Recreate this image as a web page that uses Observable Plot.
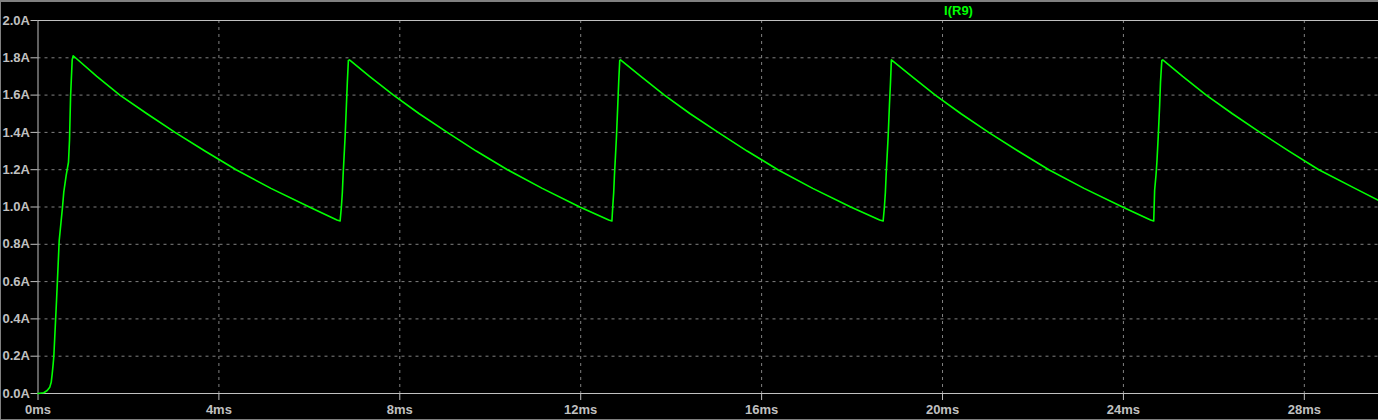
<!DOCTYPE html>
<html><head><meta charset="utf-8">
<script src="https://cdn.jsdelivr.net/npm/d3@7"></script>
<script src="https://cdn.jsdelivr.net/npm/@observablehq/plot@0.6"></script>
<style>
html,body{margin:0;padding:0;background:#000;}
#chart svg{display:block;box-shadow:inset 0 2px 0 #808080, inset 1px 0 0 #808080, inset 0 -1px 0 #808080;}
#chart svg text{font-size:13px !important;font-weight:bold;font-family:'Liberation Sans', Arial, sans-serif !important;}
</style></head><body><div id="chart"></div>
<script>
const traceName = "I(R9)";
const timeMs = [
  0, 0.128, 0.203, 0.26, 0.292, 0.314, 0.336, 0.35, 0.41, 0.469, 0.542, 0.57, 0.623, 0.674, 0.697, 0.72, 0.756, 0.778,
  1.30, 1.81, 2.41, 3.03, 3.69, 4.38, 5.15, 6.0, 6.61, 6.68,
  6.708, 6.73, 6.746, 6.759, 6.79, 6.819, 6.84, 6.863, 6.887,
  7.33, 7.86, 8.43, 9.05, 9.69, 10.38, 11.15, 11.98, 12.62, 12.69,
  12.708, 12.73, 12.746, 12.759, 12.79, 12.819, 12.84, 12.863, 12.88,
  13.33, 13.85, 14.42, 15.04, 15.68, 16.36, 17.13, 17.97, 18.61, 18.687,
  18.715, 18.737, 18.753, 18.766, 18.797, 18.826, 18.85, 18.863, 18.87,
  19.32, 19.84, 20.41, 21.02, 21.67, 22.35, 23.13, 23.98, 24.6, 24.67,
  24.69, 24.72, 24.74, 24.77, 24.8, 24.82, 24.84, 24.85, 24.87,
  25.31, 25.83, 26.41, 27.02, 27.66, 28.32, 29.12, 29.64
];
const currentA = [
  0, 0.004, 0.016, 0.034, 0.06, 0.105, 0.16, 0.2, 0.5, 0.82, 1.0, 1.08, 1.17, 1.24, 1.36, 1.59, 1.79, 1.811,
  1.7, 1.6, 1.5, 1.4, 1.3, 1.2, 1.1, 1.0, 0.93, 0.925,
  1.0, 1.08, 1.17, 1.23, 1.374, 1.544, 1.67, 1.786, 1.789,
  1.7, 1.6, 1.5, 1.4, 1.3, 1.2, 1.1, 1.0, 0.93, 0.925,
  1.0, 1.08, 1.17, 1.23, 1.374, 1.544, 1.67, 1.786, 1.789,
  1.7, 1.6, 1.5, 1.4, 1.3, 1.2, 1.1, 1.0, 0.93, 0.925,
  1.0, 1.08, 1.17, 1.23, 1.374, 1.544, 1.67, 1.75, 1.789,
  1.7, 1.6, 1.5, 1.4, 1.3, 1.2, 1.1, 1.0, 0.93, 0.925,
  1.09, 1.17, 1.24, 1.38, 1.54, 1.67, 1.75, 1.786, 1.789,
  1.7, 1.6, 1.5, 1.4, 1.3, 1.2, 1.1, 1.035
];
const xTicks = [0, 4, 8, 12, 16, 20, 24, 28];
const xTickLabels = ["0ms", "4ms", "8ms", "12ms", "16ms", "20ms", "24ms", "28ms"];
const yTicks = [0, 0.2, 0.4, 0.6, 0.8, 1.0, 1.2, 1.4, 1.6, 1.8, 2.0];
const yTickLabels = ["0.0A", "0.2A", "0.4A", "0.6A", "0.8A", "1.0A", "1.2A", "1.4A", "1.6A", "1.8A", "2.0A"];

const data = timeMs.map((t, k) => ({t, i: currentA[k]}));
const axisColor = "#c0c0c0";
const gridColor = "#808080";
const fontSize = 13;

const chart = Plot.plot({
  width: 1378, height: 420,
  marginLeft: 37.5, marginRight: 0, marginTop: 20, marginBottom: 27,
  style: {background: "#000", color: axisColor, fontFamily: "'Liberation Sans', Arial, sans-serif", fontSize: "13px", overflow: "visible"},
  x: {domain: [0, 29.64], label: null},
  y: {domain: [0, 2], label: null},
  marks: [
    Plot.gridX(xTicks.slice(1), {stroke: gridColor, strokeOpacity: 1, strokeDasharray: "3,4"}),
    Plot.gridY(yTicks.slice(1, -1), {stroke: gridColor, strokeOpacity: 1, strokeDasharray: "3,4"}),
    Plot.ruleY([yTicks[0], yTicks[yTicks.length - 1]], {stroke: axisColor}),
    Plot.ruleX([xTicks[0]], {stroke: axisColor}),
    Plot.axisX(xTicks, {tickFormat: d => xTickLabels[xTicks.indexOf(d)], tickSize: 7, tickPadding: 4, stroke: axisColor, fill: axisColor, fontSize, label: null}),
    Plot.axisY(yTicks, {tickFormat: d => yTickLabels[yTicks.indexOf(d)], tickSize: 7, tickPadding: 1, stroke: axisColor, fill: axisColor, fontSize, label: null}),
    Plot.line(data, {x: "t", y: "i", stroke: "#00ff00", strokeWidth: 1.6}),
    Plot.text([traceName], {frameAnchor: "top-left", textAnchor: "middle", lineAnchor: "middle", dx: 920.5, dy: -9.5, fill: "#00ff00", fontSize})
  ]
});
document.getElementById("chart").appendChild(chart);
</script></body></html>
